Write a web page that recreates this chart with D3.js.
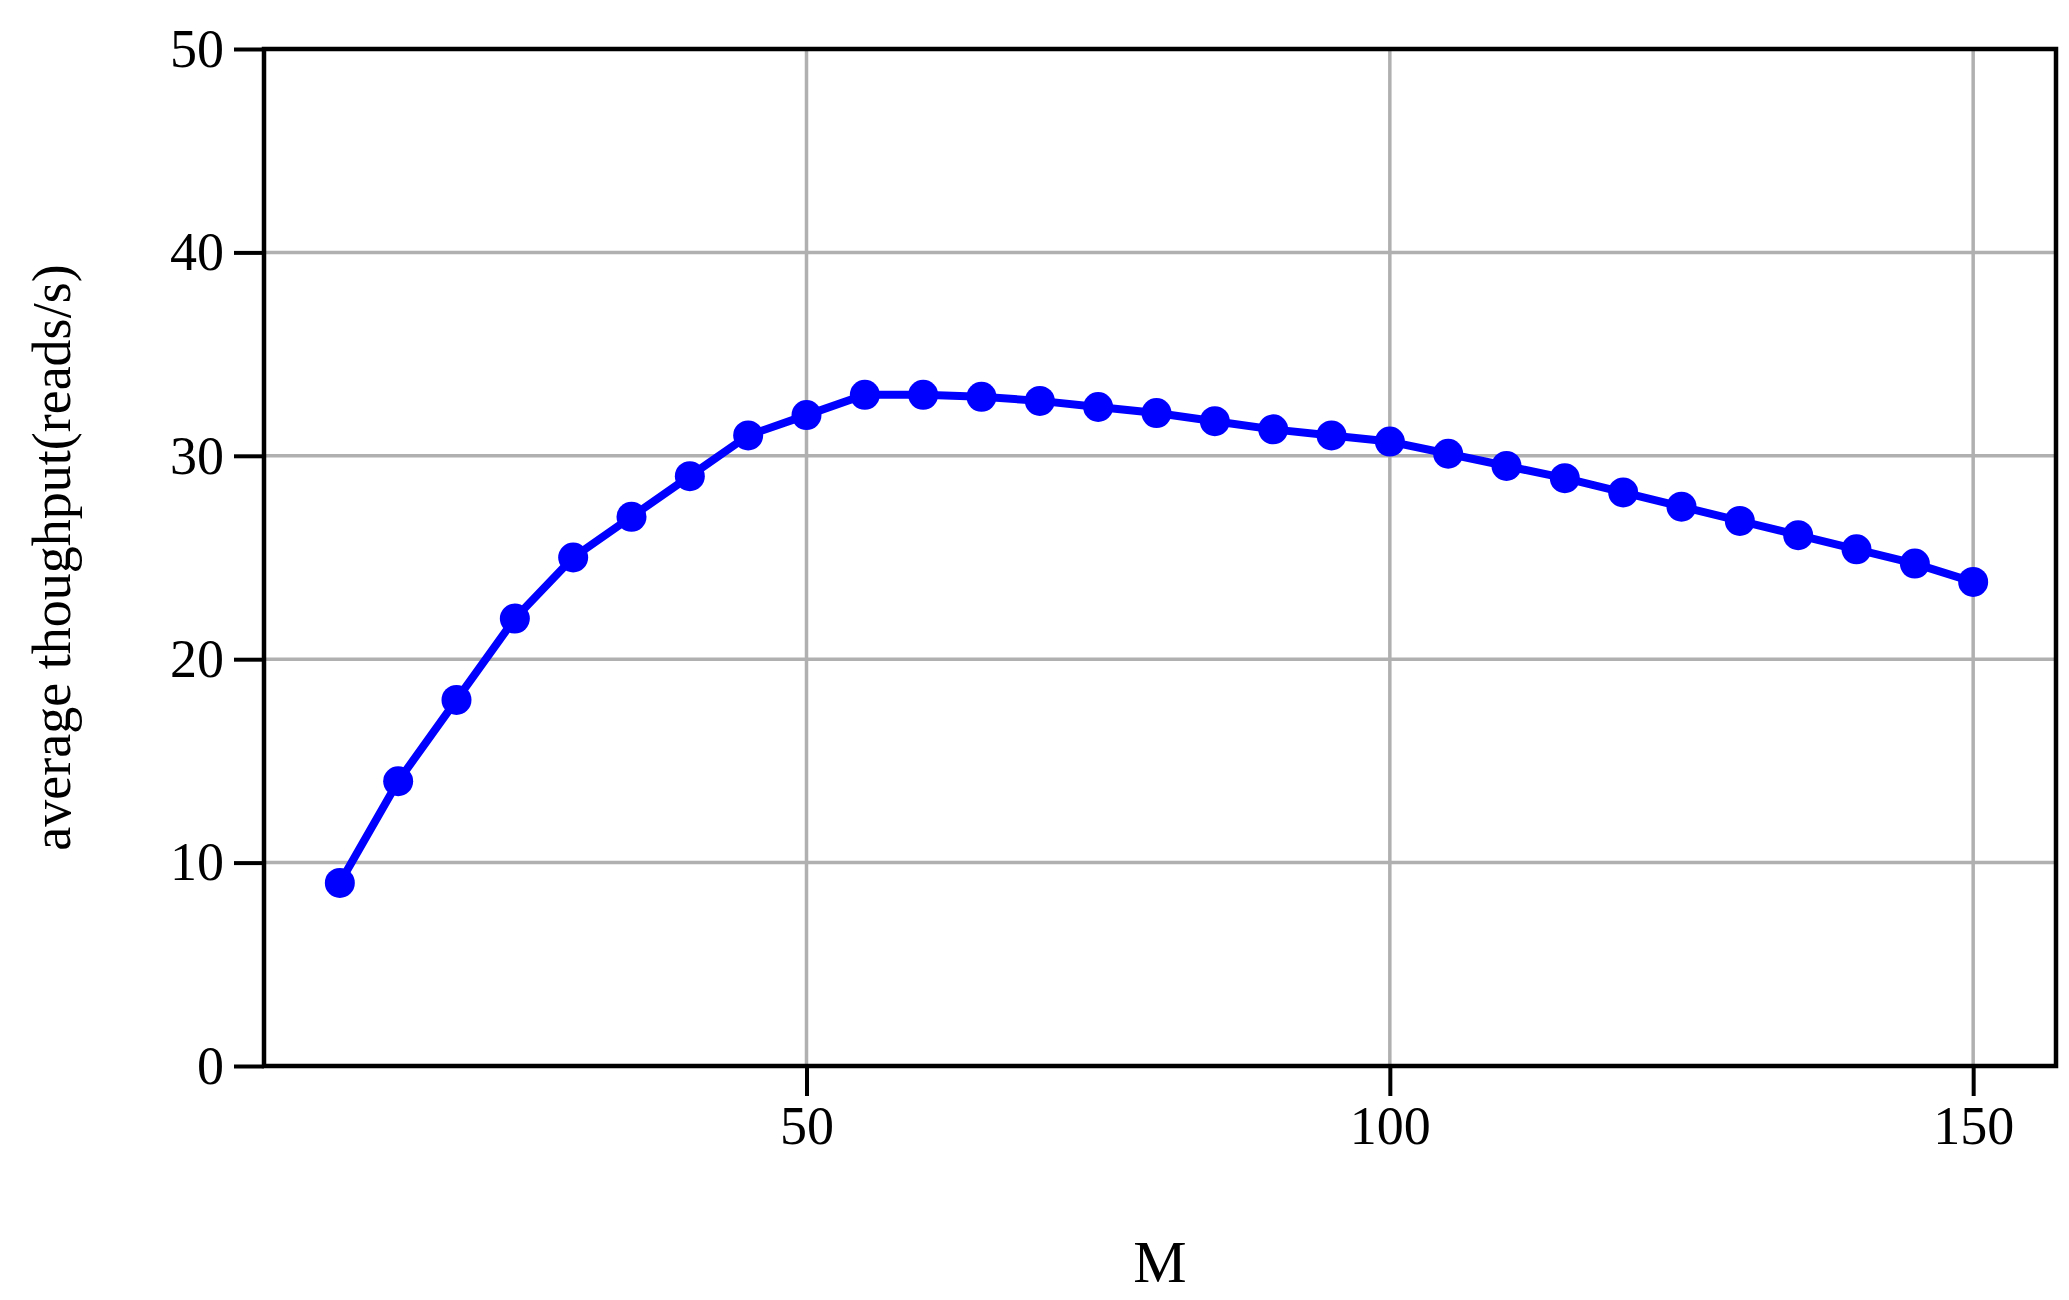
<!DOCTYPE html>
<html><head><meta charset="utf-8">
<script src="https://cdn.jsdelivr.net/npm/d3@7"></script>
<style>body{margin:0;background:#fff}</style>
</head><body>
<svg id="c" width="2069" height="1300"></svg>
<script>
const mValues = [10,15,20,25,30,35,40,45,50,55,60,65,70,75,80,85,90,95,100,105,110,115,120,125,130,135,140,145,150];
const throughput = [9,14,18,22,25,27,29,31,32,33,33,32.9,32.7,32.4,32.1,31.7,31.3,31,30.7,30.1,29.5,28.9,28.2,27.5,26.8,26.1,25.4,24.7,23.8];
const xTicks = [50,100,150];
const yTicks = [0,10,20,30,40,50];

const svg = d3.select("#c");
const L=264, R=2056, T=49, B=1066;
const x = d3.scaleLinear().domain([3.5,157.1]).range([L,R]);
const y = d3.scaleLinear().domain([0,50]).range([B,T]);
const font = "'Liberation Serif', 'Times New Roman', serif";

// grid
svg.append("g").selectAll("line").data(xTicks).join("line")
  .attr("x1",d=>x(d)).attr("x2",d=>x(d)).attr("y1",T).attr("y2",B)
  .attr("stroke","#b0b0b0").attr("stroke-width",3.5);
svg.append("g").selectAll("line").data(yTicks).join("line")
  .attr("x1",L).attr("x2",R).attr("y1",d=>y(d)).attr("y2",d=>y(d))
  .attr("stroke","#b0b0b0").attr("stroke-width",3.5);

// axes
const xa = svg.append("g").attr("transform",`translate(0,${B})`)
  .call(d3.axisBottom(x).tickValues(xTicks).tickSize(30).tickPadding(10));
const ya = svg.append("g").attr("transform",`translate(${L},0)`)
  .call(d3.axisLeft(y).tickValues(yTicks).tickSize(30).tickPadding(10));
[xa,ya].forEach(a=>{
  a.select(".domain").remove();
  a.selectAll("line").attr("stroke","#000").attr("stroke-width",4);
  a.selectAll("text").attr("font-family",font).attr("font-size",54).attr("fill","#000");
});
// frame
svg.append("rect").attr("x",L).attr("y",T).attr("width",R-L).attr("height",B-T)
  .attr("fill","none").attr("stroke","#000").attr("stroke-width",4.5);

// line
const pts = mValues.map((m,i)=>[m,throughput[i]]);
svg.append("path").datum(pts)
  .attr("d",d3.line().x(d=>x(d[0])).y(d=>y(d[1])))
  .attr("fill","none").attr("stroke","#0000ff").attr("stroke-width",8).attr("stroke-linejoin","round");
svg.append("g").selectAll("circle").data(pts).join("circle")
  .attr("cx",d=>x(d[0])).attr("cy",d=>y(d[1])).attr("r",15).attr("fill","#0000ff");

// labels
svg.append("text").attr("x",(L+R)/2).attr("y",1282).attr("text-anchor","middle")
  .attr("font-family",font).attr("font-size",60).text("M");
svg.append("text").attr("transform",`translate(70,${(T+B)/2}) rotate(-90)`).attr("text-anchor","middle")
  .attr("font-family",font).attr("font-size",54).text("average thoughput(reads/s)");
</script>
</body></html>
